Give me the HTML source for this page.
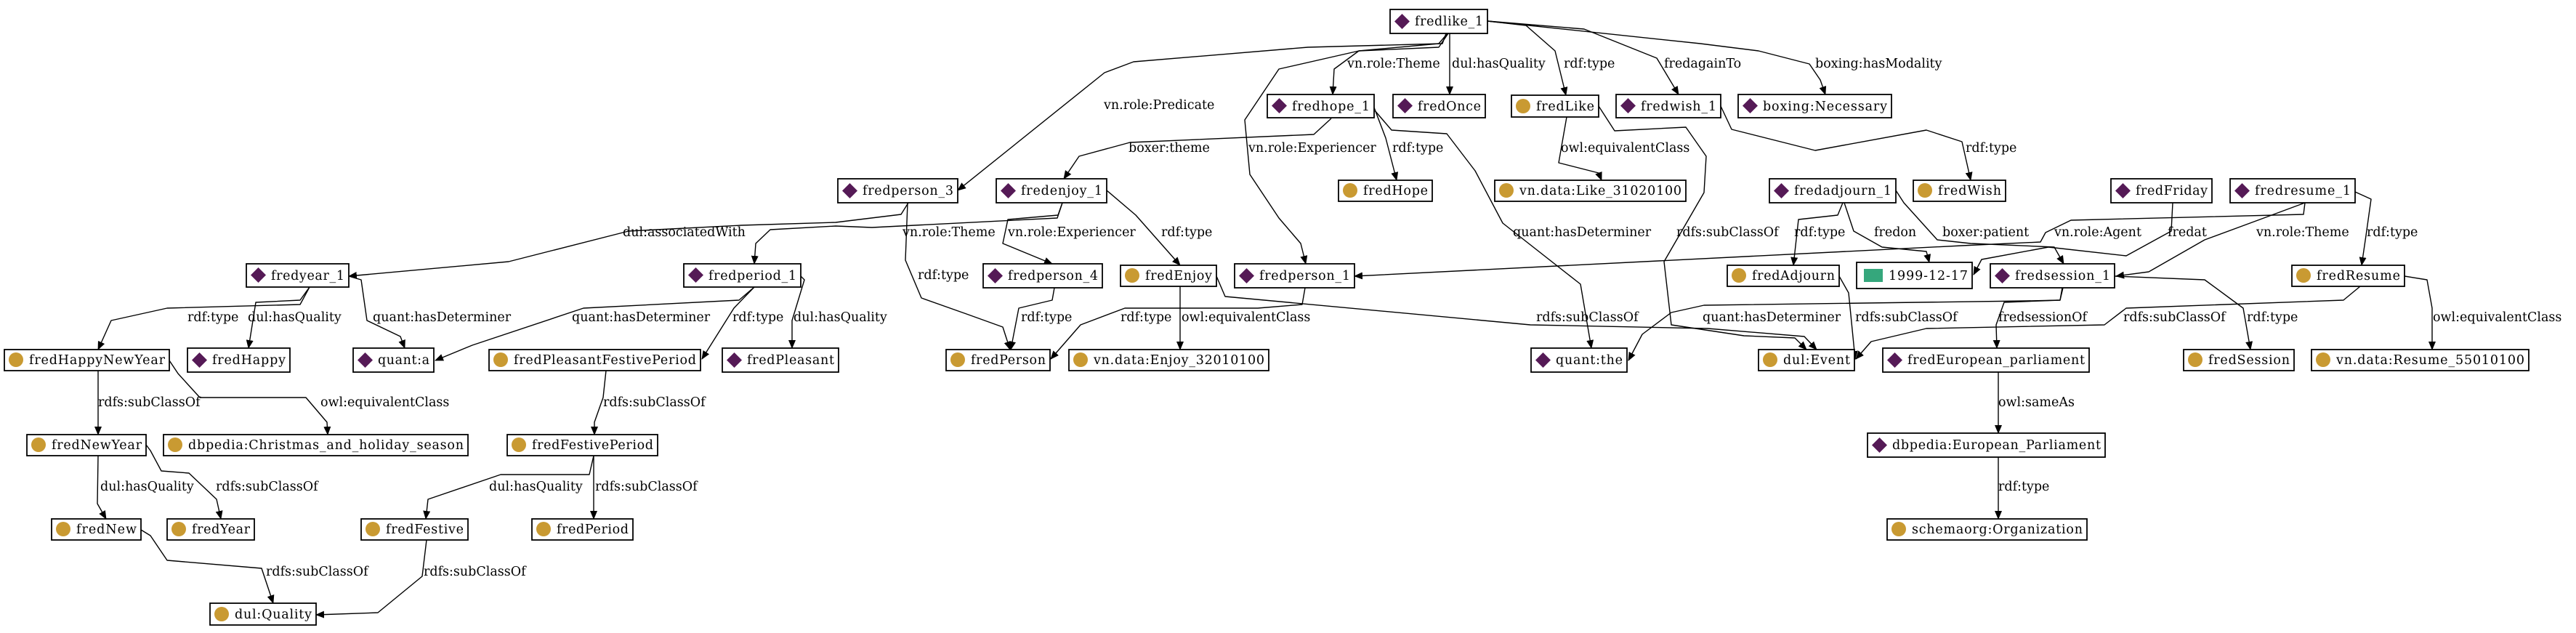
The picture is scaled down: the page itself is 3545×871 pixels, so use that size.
<!DOCTYPE html>
<html><head><meta charset="utf-8"><style>
html,body{margin:0;padding:0;background:#fff;}
svg{display:block;}
text{font-family:"DejaVu Serif","Liberation Serif",serif;font-size:17.5px;fill:#000;}
.e{fill:none;stroke:#000;stroke-width:1.4;stroke-linejoin:round;}
.n{fill:#fff;stroke:#000;stroke-width:1.8;}
</style></head><body>
<svg width="3545" height="871" viewBox="0 0 3545 871" xmlns="http://www.w3.org/2000/svg">
<defs>
<marker id="a" markerUnits="userSpaceOnUse" markerWidth="12" markerHeight="10" refX="11" refY="5" orient="auto"><path d="M0,0 L12,5 L0,10 Z" fill="#000"/></marker>
<symbol id="d" viewBox="0 0 22 22"><path d="M11,0 L22,11 L11,22 L0,11 Z" fill="#551a56"/></symbol>
</defs>
<g marker-end="url(#a)">
<path class="e" d="M1990,46 L1985,60 L1800,65 L1560,85 L1520,100 L1318,262"/>
<path class="e" d="M1992,46 L1980,60 L1870,70 L1836,95 L1834,130"/>
<path class="e" d="M1995,46 L1995,130"/>
<path class="e" d="M2047,29 L2100,35 L2140,70 L2155,131"/>
<path class="e" d="M2047,29 L2180,40 L2280,80 L2310,130"/>
<path class="e" d="M2047,29 L2340,60 L2420,70 L2490,88 L2505,110 L2512,130"/>
<path class="e" d="M1993,46 L1980,65 L1870,70 L1760,95 L1713,165 L1720,240 L1760,300 L1790,335 L1797,363"/>
<path class="e" d="M1250,279 L1240,295 L1150,306 L1020,310 L865,318 L700,360 L480,380"/>
<path class="e" d="M1462,279 L1455,300 L1200,313 L1150,311 L1060,316 L1040,335 L1038,363"/>
<path class="e" d="M1249,279 L1246,358 L1268,410 L1330,432 L1380,450 L1390,481"/>
<path class="e" d="M1832,163 L1808,185 L1555,196 L1485,215 L1464,246"/>
<path class="e" d="M1891,148 L1907,190 L1922,248"/>
<path class="e" d="M1891,151 L1915,179 L1991,184 L2030,235 L2068,307 L2175,391 L2190,479"/>
<path class="e" d="M2156,161 L2145,224 L2200,238 L2204,248"/>
<path class="e" d="M2200,146 L2222,180 L2320,175 L2348,215 L2345,265 L2290,360 L2300,447 L2400,462 L2470,465 L2486,481"/>
<path class="e" d="M2368,146 L2383,178 L2498,207 L2651,179 L2700,195 L2712,248"/>
<path class="e" d="M1462,279 L1456,296 L1387,302 L1380,335 L1448,363"/>
<path class="e" d="M1523,262 L1563,296 L1624,365"/>
<path class="e" d="M1451,396 L1448,413 L1402,424 L1391,481"/>
<path class="e" d="M1796,396 L1792,419 L1731,424 L1548,424 L1487,447 L1446,494"/>
<path class="e" d="M1624,394 L1624,481"/>
<path class="e" d="M1674,380 L1686,408 L2106,447 L2350,452 L2483,463 L2500,481"/>
<path class="e" d="M3172,279 L3170,295 L2850,303 L2815,320 L2808,333 L2700,338 L1864,380"/>
<path class="e" d="M2536,279 L2529,296 L2475,302 L2468,365"/>
<path class="e" d="M2538,279 L2551,318 L2590,340 L2651,346 L2655,361"/>
<path class="e" d="M2609,262 L2620,279 L2666,330 L2712,335 L2827,340 L2840,363"/>
<path class="e" d="M2990,279 L2988,318 L2926,352 L2819,340 L2727,357 L2716,378"/>
<path class="e" d="M3172,279 L3110,302 L3034,330 L2957,374 L2912,380"/>
<path class="e" d="M3241,264 L3263,274 L3256,324 L3250,365"/>
<path class="e" d="M2839,396 L2835,413 L2789,414 L2345,420 L2300,430 L2260,460 L2241,496"/>
<path class="e" d="M2531,380 L2544,403 L2553,494"/>
<path class="e" d="M2838,396 L2835,413 L2758,416 L2747,447 L2748,479"/>
<path class="e" d="M3248,394 L3225,413 L2926,424 L2896,447 L2651,452 L2575,470 L2554,494"/>
<path class="e" d="M2910,380 L3034,385 L3087,424 L3097,481"/>
<path class="e" d="M3309,380 L3340,385 L3347,424 L3347,481"/>
<path class="e" d="M2750,512 L2750,596"/>
<path class="e" d="M2750,629 L2750,714"/>
<path class="e" d="M426,395 L413,419 L230,424 L153,441 L135,481"/>
<path class="e" d="M426,395 L413,413 L352,416 L342,479"/>
<path class="e" d="M480,380 L497,385 L505,441 L551,463 L557,479"/>
<path class="e" d="M1038,395 L1017,413 L803,424 L650,475 L599,496"/>
<path class="e" d="M1038,395 L1010,424 L966,494"/>
<path class="e" d="M1102,380 L1107,385 L1090,441 L1090,479"/>
<path class="e" d="M135,510 L135,598"/>
<path class="e" d="M233,496 L245,514 L275,547 L421,547 L450,581 L451,598"/>
<path class="e" d="M834,510 L830,547 L818,581 L818,598"/>
<path class="e" d="M135,627 L134,693 L146,714"/>
<path class="e" d="M201,612 L207,620 L222,648 L260,651 L298,687 L304,714"/>
<path class="e" d="M817,627 L811,653 L689,653 L589,687 L586,714"/>
<path class="e" d="M817,627 L817,714"/>
<path class="e" d="M194,729 L207,737 L230,771 L360,782 L376,830"/>
<path class="e" d="M587,743 L581,793 L520,843 L435,846"/>
</g>
<g>
<text x="1519" y="150">vn.role:Predicate</text>
<text x="1854" y="93">vn.role:Theme</text>
<text x="1998" y="93">dul:hasQuality</text>
<text x="2152" y="93">rdf:type</text>
<text x="2290" y="93">fredagainTo</text>
<text x="2498" y="93">boxing:hasModality</text>
<text x="1718" y="209">vn.role:Experiencer</text>
<text x="857" y="325">dul:associatedWith</text>
<text x="1242" y="325">vn.role:Theme</text>
<text x="1263" y="384">rdf:type</text>
<text x="1553" y="209">boxer:theme</text>
<text x="1916" y="209">rdf:type</text>
<text x="2082" y="325">quant:hasDeterminer</text>
<text x="2148" y="209">owl:equivalentClass</text>
<text x="2307" y="325">rdfs:subClassOf</text>
<text x="2705" y="209">rdf:type</text>
<text x="1387" y="325">vn.role:Experiencer</text>
<text x="1598" y="325">rdf:type</text>
<text x="1405" y="442">rdf:type</text>
<text x="1542" y="442">rdf:type</text>
<text x="1626" y="442">owl:equivalentClass</text>
<text x="2114" y="442">rdfs:subClassOf</text>
<text x="2827" y="325">vn.role:Agent</text>
<text x="2469" y="325">rdf:type</text>
<text x="2579" y="325">fredon</text>
<text x="2673" y="325">boxer:patient</text>
<text x="2983" y="325">fredat</text>
<text x="3105" y="325">vn.role:Theme</text>
<text x="3257" y="325">rdf:type</text>
<text x="2343" y="442">quant:hasDeterminer</text>
<text x="2553" y="442">rdfs:subClassOf</text>
<text x="2750" y="442">fredsessionOf</text>
<text x="2922" y="442">rdfs:subClassOf</text>
<text x="3092" y="442">rdf:type</text>
<text x="3348" y="442">owl:equivalentClass</text>
<text x="2750" y="559">owl:sameAs</text>
<text x="2750" y="675">rdf:type</text>
<text x="258" y="442">rdf:type</text>
<text x="341" y="442">dul:hasQuality</text>
<text x="513" y="442">quant:hasDeterminer</text>
<text x="787" y="442">quant:hasDeterminer</text>
<text x="1008" y="442">rdf:type</text>
<text x="1092" y="442">dul:hasQuality</text>
<text x="135" y="559">rdfs:subClassOf</text>
<text x="441" y="559">owl:equivalentClass</text>
<text x="830" y="559">rdfs:subClassOf</text>
<text x="138" y="675">dul:hasQuality</text>
<text x="297" y="675">rdfs:subClassOf</text>
<text x="673" y="675">dul:hasQuality</text>
<text x="819" y="675">rdfs:subClassOf</text>
<text x="366" y="792">rdfs:subClassOf</text>
<text x="583" y="792">rdfs:subClassOf</text>
</g>
<g>
<rect class="n" x="1913" y="13" width="134" height="33"/><use href="#d" x="1919" y="19" width="21" height="21"/><text x="1947" y="35" textLength="94">fredlike_1</text>
<rect class="n" x="1744" y="130" width="147" height="32"/><use href="#d" x="1750" y="135" width="21" height="21"/><text x="1778" y="152" textLength="107">fredhope_1</text>
<rect class="n" x="1917" y="130" width="127" height="32"/><use href="#d" x="1923" y="135" width="21" height="21"/><text x="1951" y="152" textLength="87">fredOnce</text>
<rect class="n" x="2080" y="131" width="120" height="30"/><circle cx="2096" cy="146" r="10" fill="#c99a32"/><text x="2114" y="152" textLength="80">fredLike</text>
<rect class="n" x="2224" y="130" width="144" height="32"/><use href="#d" x="2230" y="135" width="21" height="21"/><text x="2258" y="152" textLength="104">fredwish_1</text>
<rect class="n" x="2392" y="130" width="211" height="32"/><use href="#d" x="2398" y="135" width="21" height="21"/><text x="2426" y="152" textLength="171">boxing:Necessary</text>
<rect class="n" x="1153" y="246" width="165" height="33"/><use href="#d" x="1159" y="252" width="21" height="21"/><text x="1187" y="268" textLength="125">fredperson_3</text>
<rect class="n" x="1371" y="246" width="152" height="33"/><use href="#d" x="1377" y="252" width="21" height="21"/><text x="1405" y="268" textLength="112">fredenjoy_1</text>
<rect class="n" x="1842" y="248" width="129" height="29"/><circle cx="1858" cy="262" r="10" fill="#c99a32"/><text x="1876" y="268" textLength="89">fredHope</text>
<rect class="n" x="2057" y="248" width="263" height="29"/><circle cx="2073" cy="262" r="10" fill="#c99a32"/><text x="2091" y="268" textLength="223">vn.data:Like_31020100</text>
<rect class="n" x="2435" y="246" width="174" height="33"/><use href="#d" x="2441" y="252" width="21" height="21"/><text x="2469" y="268" textLength="134">fredadjourn_1</text>
<rect class="n" x="2633" y="248" width="127" height="29"/><circle cx="2649" cy="262" r="10" fill="#c99a32"/><text x="2667" y="268" textLength="87">fredWish</text>
<rect class="n" x="2905" y="246" width="139" height="33"/><use href="#d" x="2911" y="252" width="21" height="21"/><text x="2939" y="268" textLength="99">fredFriday</text>
<rect class="n" x="3069" y="246" width="172" height="33"/><use href="#d" x="3075" y="252" width="21" height="21"/><text x="3103" y="268" textLength="132">fredresume_1</text>
<rect class="n" x="339" y="363" width="141" height="32"/><use href="#d" x="345" y="368" width="21" height="21"/><text x="373" y="385" textLength="101">fredyear_1</text>
<rect class="n" x="941" y="363" width="161" height="32"/><use href="#d" x="947" y="368" width="21" height="21"/><text x="975" y="385" textLength="121">fredperiod_1</text>
<rect class="n" x="1353" y="363" width="164" height="33"/><use href="#d" x="1359" y="369" width="21" height="21"/><text x="1387" y="385" textLength="124">fredperson_4</text>
<rect class="n" x="1542" y="365" width="132" height="29"/><circle cx="1558" cy="379" r="10" fill="#c99a32"/><text x="1576" y="385" textLength="92">fredEnjoy</text>
<rect class="n" x="1699" y="363" width="165" height="33"/><use href="#d" x="1705" y="369" width="21" height="21"/><text x="1733" y="385" textLength="125">fredperson_1</text>
<rect class="n" x="2377" y="365" width="154" height="29"/><circle cx="2393" cy="379" r="10" fill="#c99a32"/><text x="2411" y="385" textLength="114">fredAdjourn</text>
<rect class="n" x="2555" y="361" width="159" height="36"/><rect x="2565" y="370" width="26" height="18" fill="#35a77c"/><text x="2599" y="385" textLength="109">1999-12-17</text>
<rect class="n" x="2739" y="363" width="171" height="33"/><use href="#d" x="2745" y="369" width="21" height="21"/><text x="2773" y="385" textLength="131">fredsession_1</text>
<rect class="n" x="3154" y="365" width="155" height="29"/><circle cx="3170" cy="379" r="10" fill="#c99a32"/><text x="3188" y="385" textLength="115">fredResume</text>
<rect class="n" x="6" y="481" width="227" height="29"/><circle cx="22" cy="495" r="10" fill="#c99a32"/><text x="40" y="501" textLength="187">fredHappyNewYear</text>
<rect class="n" x="258" y="479" width="141" height="33"/><use href="#d" x="264" y="485" width="21" height="21"/><text x="292" y="501" textLength="101">fredHappy</text>
<rect class="n" x="486" y="479" width="111" height="33"/><use href="#d" x="492" y="485" width="21" height="21"/><text x="520" y="501" textLength="71">quant:a</text>
<rect class="n" x="673" y="481" width="291" height="29"/><circle cx="689" cy="495" r="10" fill="#c99a32"/><text x="707" y="501" textLength="251">fredPleasantFestivePeriod</text>
<rect class="n" x="994" y="479" width="160" height="33"/><use href="#d" x="1000" y="485" width="21" height="21"/><text x="1028" y="501" textLength="120">fredPleasant</text>
<rect class="n" x="1302" y="481" width="143" height="29"/><circle cx="1318" cy="495" r="10" fill="#c99a32"/><text x="1336" y="501" textLength="103">fredPerson</text>
<rect class="n" x="1471" y="481" width="275" height="29"/><circle cx="1487" cy="495" r="10" fill="#c99a32"/><text x="1505" y="501" textLength="235">vn.data:Enjoy_32010100</text>
<rect class="n" x="2107" y="479" width="132" height="33"/><use href="#d" x="2113" y="485" width="21" height="21"/><text x="2141" y="501" textLength="92">quant:the</text>
<rect class="n" x="2420" y="481" width="132" height="29"/><circle cx="2436" cy="495" r="10" fill="#c99a32"/><text x="2454" y="501" textLength="92">dul:Event</text>
<rect class="n" x="2591" y="479" width="284" height="33"/><use href="#d" x="2597" y="485" width="21" height="21"/><text x="2625" y="501" textLength="244">fredEuropean_parliament</text>
<rect class="n" x="3005" y="481" width="152" height="29"/><circle cx="3021" cy="495" r="10" fill="#c99a32"/><text x="3039" y="501" textLength="112">fredSession</text>
<rect class="n" x="3181" y="481" width="299" height="29"/><circle cx="3197" cy="495" r="10" fill="#c99a32"/><text x="3215" y="501" textLength="259">vn.data:Resume_55010100</text>
<rect class="n" x="37" y="598" width="164" height="29"/><circle cx="53" cy="612" r="10" fill="#c99a32"/><text x="71" y="618" textLength="124">fredNewYear</text>
<rect class="n" x="225" y="598" width="419" height="29"/><circle cx="241" cy="612" r="10" fill="#c99a32"/><text x="259" y="618" textLength="379">dbpedia:Christmas_and_holiday_season</text>
<rect class="n" x="698" y="598" width="207" height="29"/><circle cx="714" cy="612" r="10" fill="#c99a32"/><text x="732" y="618" textLength="167">fredFestivePeriod</text>
<rect class="n" x="2570" y="596" width="327" height="33"/><use href="#d" x="2576" y="602" width="21" height="21"/><text x="2604" y="618" textLength="287">dbpedia:European_Parliament</text>
<rect class="n" x="71" y="714" width="123" height="29"/><circle cx="87" cy="728" r="10" fill="#c99a32"/><text x="105" y="734" textLength="83">fredNew</text>
<rect class="n" x="230" y="714" width="120" height="29"/><circle cx="246" cy="728" r="10" fill="#c99a32"/><text x="264" y="734" textLength="80">fredYear</text>
<rect class="n" x="497" y="714" width="147" height="29"/><circle cx="513" cy="728" r="10" fill="#c99a32"/><text x="531" y="734" textLength="107">fredFestive</text>
<rect class="n" x="732" y="714" width="139" height="29"/><circle cx="748" cy="728" r="10" fill="#c99a32"/><text x="766" y="734" textLength="99">fredPeriod</text>
<rect class="n" x="2597" y="714" width="275" height="29"/><circle cx="2613" cy="728" r="10" fill="#c99a32"/><text x="2631" y="734" textLength="235">schemaorg:Organization</text>
<rect class="n" x="289" y="830" width="146" height="30"/><circle cx="305" cy="845" r="10" fill="#c99a32"/><text x="323" y="851" textLength="106">dul:Quality</text>
</g>
</svg>
</body></html>
